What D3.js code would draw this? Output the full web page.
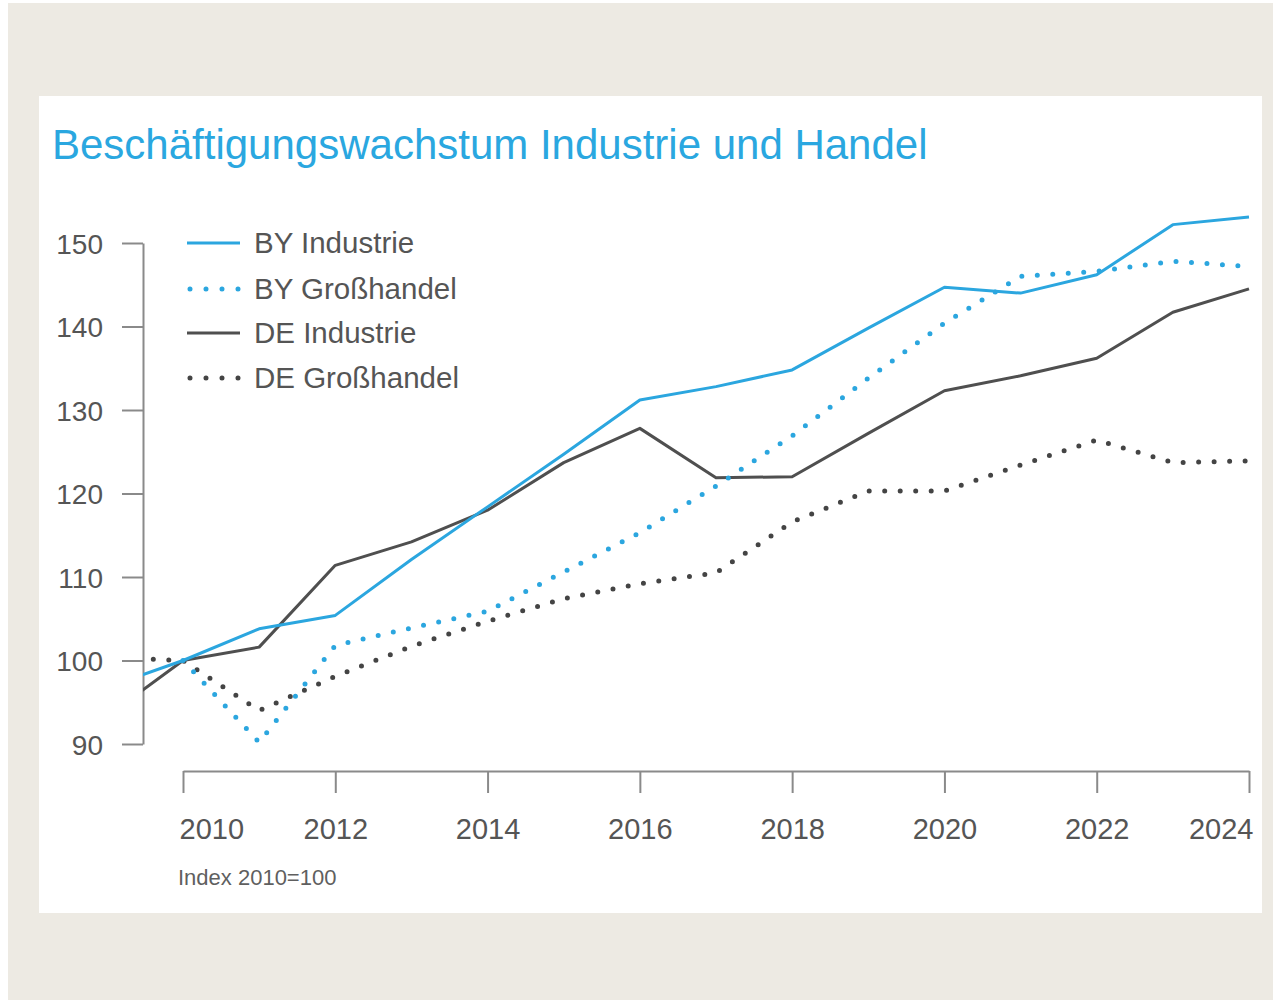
<!DOCTYPE html>
<html>
<head>
<meta charset="utf-8">
<script src="https://cdn.jsdelivr.net/npm/d3@7"></script>
<style>
  html, body { margin: 0; padding: 0; background: #ffffff; }
  svg { display: block; }
  text { font-family: "Liberation Sans", Arial, sans-serif; }
</style>
</head>
<body>
<svg id="chart" width="1273" height="1000"></svg>
<script>
// ---- data ----
const years = [2009, 2010, 2011, 2012, 2013, 2014, 2015, 2016, 2017, 2018, 2019, 2020, 2021, 2022, 2023, 2024];
const byIndustrie   = [96.8, 100, 103.8, 105.4, 112.1, 118.4, 124.7, 131.2, 132.8, 134.8, 139.8, 144.7, 144.0, 146.2, 152.2, 153.1];
const byGrosshandel = [null, 100, 90.2, 101.8, 103.9, 105.9, 110.6, 115.3, 120.9, 126.9, 133.8, 140.4, 146.0, 146.6, 147.8, 147.2];
const deIndustrie   = [93.3, 100, 101.6, 111.4, 114.2, 118.0, 123.7, 127.8, 121.9, 122.0, 127.2, 132.3, 134.1, 136.2, 141.7, 144.5];
const deGrosshandel = [100.4, 100, 94.0, 98.1, 101.7, 104.7, 107.4, 109.2, 110.5, 116.6, 120.3, 120.3, 123.4, 126.4, 123.7, 123.9];
const seriesNames = ["BY Industrie", "BY Großhandel", "DE Industrie", "DE Großhandel"];
const xTicks = [2010, 2012, 2014, 2016, 2018, 2020, 2022, 2024];
const yTicks = [90, 100, 110, 120, 130, 140, 150];
const titleText = "Beschäftigungswachstum Industrie und Handel";
const noteText = "Index 2010=100";

// ---- styles ----
const BLUE = "#2ba6df";
const GRAY = "#4f4f4f";
const styles = {
  "BY Industrie":  { color: BLUE, dotted: false },
  "BY Großhandel": { color: BLUE, dotted: true },
  "DE Industrie":  { color: GRAY, dotted: false },
  "DE Großhandel": { color: "#444444", dotted: true }
};
const seriesValues = {
  "BY Industrie": byIndustrie,
  "BY Großhandel": byGrosshandel,
  "DE Industrie": deIndustrie,
  "DE Großhandel": deGrosshandel
};

const svg = d3.select("#chart");

// backgrounds
svg.append("rect").attr("x", 8).attr("y", 3).attr("width", 1265).attr("height", 997).attr("fill", "#edeae3");
svg.append("rect").attr("x", 39).attr("y", 96).attr("width", 1223).attr("height", 817).attr("fill", "#ffffff");

// title
svg.append("text")
  .attr("x", 52).attr("y", 159)
  .attr("fill", "#2aa7e0")
  .style("font-size", "42px")
  .text(titleText);

// scales
const x = d3.scaleLinear().domain([2010, 2024]).range([183, 1249]);
const y = d3.scaleLinear().domain([90, 150]).range([744, 243]);

const axisColor = "#8a8a8a";
const labelColor = "#555555";

// y axis
const yAxisX = 143;
const yAxis = svg.append("g").attr("transform", `translate(${yAxisX},0)`)
  .call(d3.axisLeft(y).tickValues(yTicks).tickSize(21).tickPadding(19).tickSizeOuter(0));
yAxis.select(".domain").attr("stroke", axisColor).attr("stroke-width", 2);
yAxis.selectAll(".tick line").attr("stroke", axisColor).attr("stroke-width", 2);
yAxis.selectAll(".tick text").attr("fill", labelColor).style("font-size", "28px")
  .style("font-family", "'Liberation Sans', Arial, sans-serif").attr("dy", "0.36em");

// x axis
const xAxisY = 771;
const xAxis = svg.append("g").attr("transform", `translate(0,${xAxisY})`)
  .call(d3.axisBottom(x).tickValues(xTicks).tickFormat(d3.format("d")).tickSize(22).tickPadding(25).tickSizeOuter(0));
xAxis.select(".domain").attr("stroke", axisColor).attr("stroke-width", 2);
xAxis.selectAll(".tick line").attr("stroke", axisColor).attr("stroke-width", 2);
xAxis.selectAll(".tick text").attr("fill", labelColor).style("font-size", "29px")
  .style("font-family", "'Liberation Sans', Arial, sans-serif")
  .attr("text-anchor", d => d === xTicks[0] ? "start" : (d === xTicks[xTicks.length - 1] ? "end" : "middle"))
  .attr("dx", d => d === xTicks[0] ? -4 : (d === xTicks[xTicks.length - 1] ? 4 : 0));

// note
svg.append("text").attr("x", 178).attr("y", 885)
  .attr("fill", "#5f5f5f").style("font-size", "22px").text(noteText);

// clip
svg.append("clipPath").attr("id", "plotclip")
  .append("rect").attr("x", yAxisX).attr("y", 150).attr("width", 1262 - yAxisX).attr("height", 700);

const line = d3.line()
  .defined(d => d.v !== null)
  .x(d => x(d.year)).y(d => y(d.v));

const plot = svg.append("g").attr("clip-path", "url(#plotclip)");
const drawOrder = ["DE Großhandel", "DE Industrie", "BY Großhandel", "BY Industrie"];
drawOrder.forEach(name => {
  const st = styles[name];
  const vals = seriesValues[name];
  const pts = years.map((yr, i) => ({ year: yr, v: vals[i] })).filter(d => d.v !== null);
  const p = plot.append("path").datum(pts)
    .attr("d", line).attr("fill", "none")
    .attr("stroke", st.color);
  if (st.dotted) {
    p.attr("stroke-width", 5).attr("stroke-linecap", "round").attr("stroke-dasharray", "0 15.5");
  } else {
    p.attr("stroke-width", 3).attr("stroke-linejoin", "round");
  }
});

// legend
const legendYs = [243, 289, 333, 378];
const legend = svg.append("g");
seriesNames.forEach((name, i) => {
  const st = styles[name];
  const ly = legendYs[i];
  const l = legend.append("line").attr("x1", 187).attr("x2", 240).attr("y1", ly).attr("y2", ly)
    .attr("stroke", st.color);
  if (st.dotted) {
    l.attr("x1", 190).attr("stroke-width", 5).attr("stroke-linecap", "round").attr("stroke-dasharray", "0 16");
  } else {
    l.attr("stroke-width", 3);
  }
  legend.append("text").attr("x", 254).attr("y", ly + 10)
    .attr("fill", labelColor).style("font-size", "29.5px").text(name);
});
</script>
</body>
</html>
